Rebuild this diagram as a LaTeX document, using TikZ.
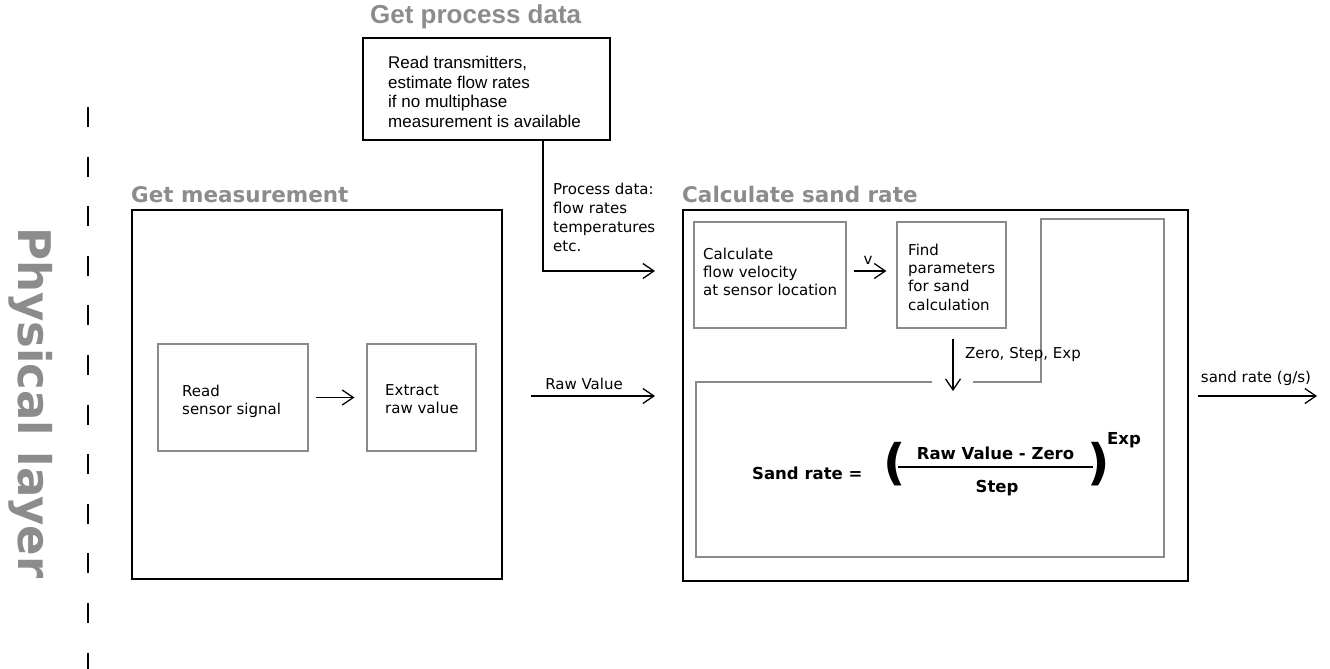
\documentclass[tikz,border=0pt]{standalone}
\usepackage{fontspec}
\setmainfont{DejaVu Sans}
\newfontfamily\arialfont{Liberation Sans}
\usetikzlibrary{arrows.meta}
\definecolor{titlegray}{HTML}{8C8C8C}
\definecolor{boxgray}{HTML}{8A8A8A}
\begin{document}
\begin{tikzpicture}[x=1pt,y=-1pt,
  bigbox/.style={draw=black,line width=2pt,inner sep=0pt},
  subbox/.style={draw=boxgray,line width=1.2pt,inner sep=0pt},
  flow/.style={line width=1.3pt,-{Straight Barb[length=11pt,width=15pt,line width=1.3pt]}},
  title/.style={text=titlegray,font=\fontsize{21.5}{24}\selectfont\bfseries,anchor=base west,inner sep=0pt},
  body/.style={font=\fontsize{15}{18}\selectfont,align=left,anchor=north west,inner sep=0pt},
  lbl/.style={font=\fontsize{15}{18}\selectfont,inner sep=0pt},
  formula/.style={font=\fontsize{16.5}{19}\selectfont\bfseries,inner sep=0pt},
  paren/.style={font=\fontsize{49}{49}\selectfont\bfseries,inner sep=0pt},
]
\useasboundingbox (0,0) rectangle (1330,669);

% layer separator and layer name
\coordinate (layertop) at (88,107);
\coordinate (layerbot) at (88,669);
\draw[line width=1.5pt,dash pattern=on 20pt off 29.6pt] (layertop) -- (layerbot);
\node[rotate=-90,anchor=base west,inner sep=0pt,text=titlegray,
      font=\fontsize{45}{50}\selectfont\bfseries] (layername) at (18,227) {Physical layer};

% ---------------- Get process data ----------------
\node[anchor=base west,inner sep=0pt,text=titlegray,
      font=\arialfont\fontsize{26}{30}\selectfont\bfseries] (pdtitle) at (370,24) {Get process data};
\node[bigbox,minimum width=247pt,minimum height=102pt] (topbox) at (486.5,89) {};
\node[body,font=\arialfont\fontsize{17}{19.5}\selectfont] (topboxtext) at (388,56)
  {Read transmitters,\\estimate flow rates\\if no multiphase\\measurement is available};

\coordinate (pdx) at (543,0);
\coordinate (pdend) at (655,271);
\draw[flow] (topbox.south -| pdx) |- (pdend);
\node[body,font=\fontsize{15}{19}\selectfont] (pdlabel) at (553,182.5)
  {Process data:\\flow rates\\temperatures\\etc.};

% ---------------- Get measurement ----------------
\node[title] (gmtitle) at (131,202) {Get measurement};
\node[bigbox,minimum width=370pt,minimum height=369pt] (gm) at (317,394.5) {};
\node[subbox,minimum width=150pt,minimum height=107pt] (read) at (233,397.5) {};
\node[body] (readtext) at (182,384.5) {Read\\sensor signal};
\node[subbox,minimum width=109pt,minimum height=107pt] (extract) at (421.5,397.5) {};
\node[body] (extracttext) at (385,384.5) {Extract\\raw value};
\draw[flow] ([xshift=7pt]read.east) -- ([xshift=-12pt]extract.west);

% raw value into the sand rate calculation
\coordinate (rvstart) at ([xshift=28pt]gm.east);
\coordinate (rvend) at (655,396);
\draw[flow] (rvstart |- rvend) -- (rvend);
\node[lbl,anchor=base] (rvlabel) at (584,389.5) {Raw Value};

% ---------------- Calculate sand rate ----------------
\node[title] (csrtitle) at (682,202) {Calculate sand rate};
\node[bigbox,minimum width=505pt,minimum height=371pt] (csr) at (935.5,395.5) {};

\node[subbox,minimum width=152pt,minimum height=106pt] (cfv) at (770,275) {};
\node[body] (cfvtext) at (703,247.5) {Calculate\\flow velocity\\at sensor location};
\node[subbox,minimum width=109pt,minimum height=106pt] (find) at (951.5,275) {};
\node[body,font=\fontsize{15}{18.4}\selectfont] (findtext) at (908,243.5)
  {Find\\parameters\\for sand\\calculation};
\draw[flow] ([xshift=7pt,yshift=4pt]cfv.east) -- ([xshift=-10pt,yshift=4pt]find.west);
\node[lbl,anchor=base] (vlabel) at (868,264) {v};

% formula area (notched outline)
\draw[draw=boxgray,line width=1.2pt]
  (932,382) -- (696,382) -- (696,557) -- (1164,557) -- (1164,219)
  -- (1041,219) -- (1041,382) -- (973,382);
\coordinate (zsestart) at ([shift={(1.5,10)}]find.south);
\coordinate (zseend) at (953,391);
\draw[flow] (zsestart) -- (zseend);
\node[lbl,anchor=base west] (zselabel) at (965,358.5) {Zero, Step, Exp};

% sand rate formula
\node[formula,anchor=base west] (srlhs) at (752,479) {Sand rate =};
\node[paren] (lparen) at (895,464) {(};
\node[formula,anchor=base] (numer) at (995.5,459) {Raw Value - Zero};
\node[formula,anchor=base] (denom) at (997,492) {Step};
\draw[line width=1.5pt] (898,467) -- (1093,467);
\node[paren] (rparen) at (1099,464) {)};
\node[formula,anchor=base west] (expo) at (1107,444) {Exp};

% result
\coordinate (outend) at (1317,396);
\draw[flow] ([xshift=9pt]csr.east |- outend) -- (outend);
\node[lbl,anchor=base] (outlabel) at (1256,382) {sand rate (g/s)};
\end{tikzpicture}
\end{document}
